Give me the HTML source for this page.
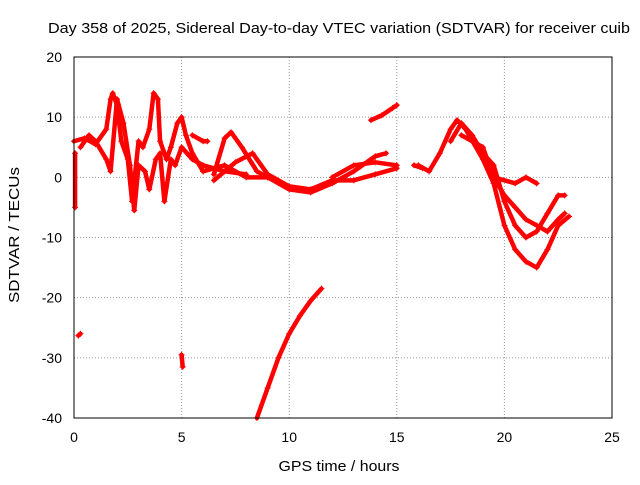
<!DOCTYPE html>
<html><head><meta charset="utf-8"><style>
body{margin:0;background:#fff;}
svg text{font-family:"Liberation Sans",sans-serif;font-size:14px;fill:#000;}
</style></head><body>
<svg id="chart" width="640" height="480" xmlns="http://www.w3.org/2000/svg">
<text x="339" y="33" text-anchor="middle" textLength="582" lengthAdjust="spacingAndGlyphs" style="font-size:15px">Day 358 of 2025, Sidereal Day-to-day VTEC variation (SDTVAR) for receiver cuib</text>
<text x="339" y="471" text-anchor="middle" textLength="121" lengthAdjust="spacingAndGlyphs" style="font-size:15px">GPS time / hours</text>
<text x="0" y="0" transform="translate(19,235) rotate(-90)" text-anchor="middle" textLength="136" lengthAdjust="spacingAndGlyphs" style="font-size:15px">SDTVAR / TECUs</text>
<g id="grid"></g><g id="ticks"></g><g id="marks"></g>
<rect x="74" y="57" width="538" height="361" fill="none" stroke="#000" stroke-width="1"/>
</svg>
<script>
const xTicks=[0,5,10,15,20,25];
const yTicks=[20,10,0,-10,-20,-30,-40];
const trackX=[
[8.5,9,9.5,10,10.5,11,11.5],
[13.8,14.3,14.8,15],
[0.2,0.3],
[5,5.05],
[6,7,8,9,10,11,12,13,14,14.5],
[6.5,7,7.3,7.8,8.5,9],
[6.5,7.5,8.3,9,10,11,12,13,14,15],
[12,13,14,15],
[0,0.5,1,1.5,1.7,1.8,2,2.2,2.5,2.7,3,3.2,3.5,3.7,3.9,4,4.3,4.5,4.8,5,5.2,5.5,6],
[0.3,0.7,1,1.5,1.7,2,2.3,2.6,2.8,3,3.3,3.5,3.8,4,4.2,4.5,4.7,5,5.5,6,7,8],
[0.05,0.05],
[5.5,6,6.2],
[16,16.5,17,17.5,17.8,18.2,19,19.5,20,20.5,21,21.5,22,22.5,23],
[17.5,18,18.5,19,19.5,20,20.5,21,21.5,22,22.5,22.8],
[18,19,19.5,20,20.5,21,21.5,22,22.5,22.8],
[19.5,20.5,21,21.5],
[15.8,16.2]
];
const trackY=[
[-40,-35,-30,-26,-23,-20.5,-18.5],
[9.5,10.3,11.5,12],
[-26.3,-26],
[-29.5,-31.5],
[1,2,0,0,-2,-2.5,-1,1,3.5,4],
[0.5,6.5,7.5,5,1,0],
[-0.5,2.5,4,0.5,-1.5,-2,-0.5,-0.5,0.5,1.5],
[0,2,2.5,2],
[6,6.5,5.5,8,13,14,12,6,3,-4,6,5,8,14,13,6,3,5,9,10,7,4,1],
[5,7,6,3,1,13,9,2,-5.5,2,1,-2,3,4,-4,3,2,5,3,2,1,0.5],
[4,-5],
[7,6,6],
[2,1,4,8,9.5,8,3,-1,-8,-12,-14,-15,-12,-8,-6.5],
[6,9,7,4,2,-4,-8,-10,-9,-6,-3,-3],
[7,5,0,-3,-5,-7,-8,-9,-7,-6],
[0,-1,0,-1],
[2,1.5]
];
const X=v=>74+v*538/25, Y=v=>57+(20-v)*361/60;
const NS="http://www.w3.org/2000/svg";
const grid=document.getElementById('grid'),ticks=document.getElementById('ticks'),marks=document.getElementById('marks');
function mk(t,a,p){const e=document.createElementNS(NS,t);for(const k in a)e.setAttribute(k,a[k]);p.appendChild(e);return e;}
xTicks.forEach(v=>{
 const x=X(v);
 if(v>0&&v<25){const g=mk('line',{x1:x,y1:57,x2:x,y2:418,stroke:'#999','stroke-dasharray':'1,2'},grid);
 
 }
 const t=mk('text',{x:x,y:442,'text-anchor':'middle'},ticks);t.textContent=v;
 
 
});
yTicks.forEach(v=>{
 const y=Y(v);
 if(v<20&&v>-40){const g=mk('line',{x1:74,y1:y,x2:612,y2:y,stroke:'#999','stroke-dasharray':'1,2'},grid);
 
 }
 const t=mk('text',{x:62,y:y+5,'text-anchor':'end'},ticks);t.textContent=v;
 
 
});
trackX.forEach((xs,i)=>{
 const ys=trackY[i];
 const pts=xs.map((x,j)=>X(x)+','+Y(ys[j])).join(' ');
 const pl=mk('polyline',{points:pts,fill:'none',stroke:'#f00','stroke-width':4.5,'stroke-linejoin':'round','stroke-linecap':'round'},marks);
 
 
 xs.forEach((x,j)=>{
  const px=X(x),py=Y(ys[j]);
  const p=mk('path',{d:`M${px-3},${py}H${px+3}M${px},${py-3}V${py+3}`,stroke:'#f00','stroke-width':1},marks);
  
  
 });
});
</script>
</body></html>
